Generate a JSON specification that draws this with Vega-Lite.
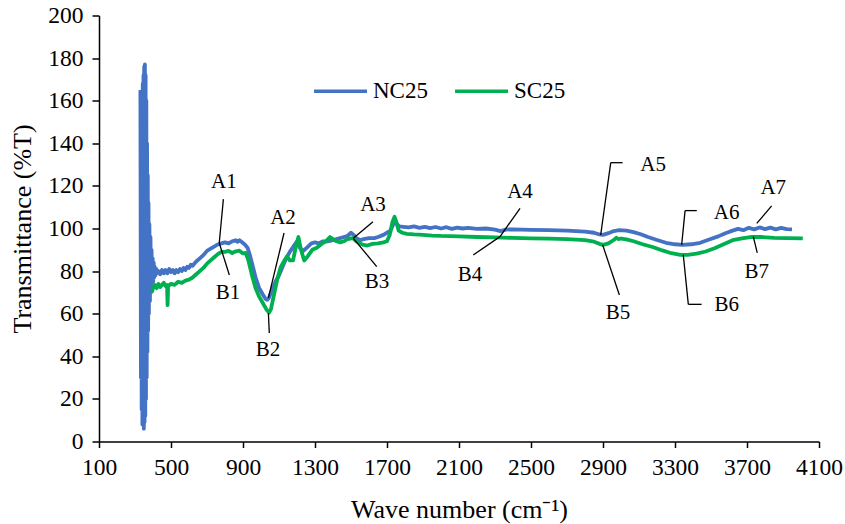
{
  "$schema": "https://vega.github.io/schema/vega-lite/v6.json",
  "width": 720,
  "height": 426,
  "autosize": {"type": "none"},
  "padding": {"left": 99, "top": 15.5, "right": 26, "bottom": 82.5},
  "background": "white",
  "config": {
    "view": {"stroke": null},
    "font": "Liberation Serif",
    "axis": {
      "grid": false,
      "domainColor": "black",
      "domainWidth": 1.5,
      "tickColor": "black",
      "tickWidth": 1.5,
      "labelColor": "black",
      "titleColor": "black",
      "labelFont": "Liberation Serif",
      "titleFont": "Liberation Serif",
      "labelFontSize": 23.5,
      "titleFontSize": 26,
      "titleFontWeight": "normal"
    }
  },
  "datasets": {
    "spectra": [
      {"series": "NC25", "wn": 330, "t": 165}, {"series": "NC25", "wn": 333, "t": 30}, {"series": "NC25", "wn": 335, "t": 150},
      {"series": "NC25", "wn": 337, "t": 15}, {"series": "NC25", "wn": 339, "t": 160}, {"series": "NC25", "wn": 341, "t": 8},
      {"series": "NC25", "wn": 343, "t": 168}, {"series": "NC25", "wn": 345, "t": 10}, {"series": "NC25", "wn": 347, "t": 172},
      {"series": "NC25", "wn": 349, "t": 6}, {"series": "NC25", "wn": 351, "t": 176}, {"series": "NC25", "wn": 353, "t": 9},
      {"series": "NC25", "wn": 355, "t": 177}, {"series": "NC25", "wn": 357, "t": 12}, {"series": "NC25", "wn": 359, "t": 172},
      {"series": "NC25", "wn": 361, "t": 20}, {"series": "NC25", "wn": 363, "t": 160}, {"series": "NC25", "wn": 365, "t": 30},
      {"series": "NC25", "wn": 367, "t": 140}, {"series": "NC25", "wn": 369, "t": 42}, {"series": "NC25", "wn": 371, "t": 125},
      {"series": "NC25", "wn": 373, "t": 52}, {"series": "NC25", "wn": 375, "t": 112}, {"series": "NC25", "wn": 377, "t": 60},
      {"series": "NC25", "wn": 380, "t": 102}, {"series": "NC25", "wn": 383, "t": 66}, {"series": "NC25", "wn": 386, "t": 96},
      {"series": "NC25", "wn": 389, "t": 70}, {"series": "NC25", "wn": 392, "t": 90}, {"series": "NC25", "wn": 395, "t": 73},
      {"series": "NC25", "wn": 398, "t": 86}, {"series": "NC25", "wn": 401, "t": 75}, {"series": "NC25", "wn": 404, "t": 84},
      {"series": "NC25", "wn": 407, "t": 77}, {"series": "NC25", "wn": 410, "t": 82}, {"series": "NC25", "wn": 414, "t": 78},
      {"series": "NC25", "wn": 418, "t": 81}, {"series": "NC25", "wn": 422, "t": 79}, {"series": "NC25", "wn": 430, "t": 80},
      {"series": "NC25", "wn": 440, "t": 78.5}, {"series": "NC25", "wn": 450, "t": 80.5}, {"series": "NC25", "wn": 460, "t": 79},
      {"series": "NC25", "wn": 470, "t": 80.5}, {"series": "NC25", "wn": 480, "t": 79}, {"series": "NC25", "wn": 490, "t": 81},
      {"series": "NC25", "wn": 500, "t": 79.5}, {"series": "NC25", "wn": 510, "t": 80.5}, {"series": "NC25", "wn": 520, "t": 79},
      {"series": "NC25", "wn": 530, "t": 80.5}, {"series": "NC25", "wn": 540, "t": 79.5}, {"series": "NC25", "wn": 550, "t": 81},
      {"series": "NC25", "wn": 560, "t": 80}, {"series": "NC25", "wn": 570, "t": 81.5}, {"series": "NC25", "wn": 580, "t": 80.5},
      {"series": "NC25", "wn": 590, "t": 82}, {"series": "NC25", "wn": 600, "t": 81.5}, {"series": "NC25", "wn": 610, "t": 83},
      {"series": "NC25", "wn": 620, "t": 82.5}, {"series": "NC25", "wn": 640, "t": 84.5}, {"series": "NC25", "wn": 660, "t": 86},
      {"series": "NC25", "wn": 680, "t": 87.5}, {"series": "NC25", "wn": 700, "t": 89.5}, {"series": "NC25", "wn": 720, "t": 90.5},
      {"series": "NC25", "wn": 740, "t": 91.5}, {"series": "NC25", "wn": 760, "t": 92.5}, {"series": "NC25", "wn": 780, "t": 93},
      {"series": "NC25", "wn": 800, "t": 93.5}, {"series": "NC25", "wn": 820, "t": 93}, {"series": "NC25", "wn": 840, "t": 94},
      {"series": "NC25", "wn": 860, "t": 94.5}, {"series": "NC25", "wn": 870, "t": 93.8}, {"series": "NC25", "wn": 880, "t": 94.5},
      {"series": "NC25", "wn": 895, "t": 93.5}, {"series": "NC25", "wn": 910, "t": 92.5}, {"series": "NC25", "wn": 925, "t": 91},
      {"series": "NC25", "wn": 940, "t": 87}, {"series": "NC25", "wn": 955, "t": 82}, {"series": "NC25", "wn": 970, "t": 77},
      {"series": "NC25", "wn": 990, "t": 72}, {"series": "NC25", "wn": 1010, "t": 69}, {"series": "NC25", "wn": 1025, "t": 67},
      {"series": "NC25", "wn": 1035, "t": 66.5}, {"series": "NC25", "wn": 1045, "t": 67.5}, {"series": "NC25", "wn": 1060, "t": 71},
      {"series": "NC25", "wn": 1080, "t": 75}, {"series": "NC25", "wn": 1100, "t": 78}, {"series": "NC25", "wn": 1120, "t": 82},
      {"series": "NC25", "wn": 1140, "t": 86}, {"series": "NC25", "wn": 1160, "t": 89}, {"series": "NC25", "wn": 1180, "t": 91.5},
      {"series": "NC25", "wn": 1200, "t": 94}, {"series": "NC25", "wn": 1215, "t": 91}, {"series": "NC25", "wn": 1235, "t": 89.5},
      {"series": "NC25", "wn": 1255, "t": 91}, {"series": "NC25", "wn": 1280, "t": 93}, {"series": "NC25", "wn": 1300, "t": 93.5},
      {"series": "NC25", "wn": 1320, "t": 93}, {"series": "NC25", "wn": 1345, "t": 94}, {"series": "NC25", "wn": 1370, "t": 94},
      {"series": "NC25", "wn": 1400, "t": 94.5}, {"series": "NC25", "wn": 1420, "t": 95}, {"series": "NC25", "wn": 1440, "t": 95.5},
      {"series": "NC25", "wn": 1460, "t": 96}, {"series": "NC25", "wn": 1480, "t": 96.5}, {"series": "NC25", "wn": 1500, "t": 98},
      {"series": "NC25", "wn": 1515, "t": 97}, {"series": "NC25", "wn": 1530, "t": 95.5}, {"series": "NC25", "wn": 1550, "t": 94.5},
      {"series": "NC25", "wn": 1570, "t": 95}, {"series": "NC25", "wn": 1600, "t": 95.5}, {"series": "NC25", "wn": 1630, "t": 95.5},
      {"series": "NC25", "wn": 1650, "t": 96}, {"series": "NC25", "wn": 1680, "t": 97}, {"series": "NC25", "wn": 1700, "t": 98},
      {"series": "NC25", "wn": 1720, "t": 99}, {"series": "NC25", "wn": 1735, "t": 102}, {"series": "NC25", "wn": 1745, "t": 104},
      {"series": "NC25", "wn": 1755, "t": 102}, {"series": "NC25", "wn": 1770, "t": 101}, {"series": "NC25", "wn": 1790, "t": 100.8},
      {"series": "NC25", "wn": 1820, "t": 100.5}, {"series": "NC25", "wn": 1850, "t": 101}, {"series": "NC25", "wn": 1880, "t": 100.3},
      {"series": "NC25", "wn": 1910, "t": 100.8}, {"series": "NC25", "wn": 1940, "t": 100.2}, {"series": "NC25", "wn": 1970, "t": 100.7},
      {"series": "NC25", "wn": 2000, "t": 100}, {"series": "NC25", "wn": 2030, "t": 100.6}, {"series": "NC25", "wn": 2060, "t": 99.8},
      {"series": "NC25", "wn": 2090, "t": 100.4}, {"series": "NC25", "wn": 2120, "t": 100}, {"series": "NC25", "wn": 2150, "t": 100.3},
      {"series": "NC25", "wn": 2200, "t": 99.8}, {"series": "NC25", "wn": 2250, "t": 100}, {"series": "NC25", "wn": 2300, "t": 99.5},
      {"series": "NC25", "wn": 2330, "t": 98.8}, {"series": "NC25", "wn": 2360, "t": 99.5}, {"series": "NC25", "wn": 2400, "t": 99.6},
      {"series": "NC25", "wn": 2500, "t": 99.4}, {"series": "NC25", "wn": 2600, "t": 99.2}, {"series": "NC25", "wn": 2700, "t": 99},
      {"series": "NC25", "wn": 2800, "t": 98.5}, {"series": "NC25", "wn": 2850, "t": 98}, {"series": "NC25", "wn": 2880, "t": 97.2},
      {"series": "NC25", "wn": 2900, "t": 97}, {"series": "NC25", "wn": 2930, "t": 97.8}, {"series": "NC25", "wn": 2960, "t": 98.8},
      {"series": "NC25", "wn": 2990, "t": 99.2}, {"series": "NC25", "wn": 3030, "t": 99}, {"series": "NC25", "wn": 3070, "t": 98.3},
      {"series": "NC25", "wn": 3110, "t": 97.3}, {"series": "NC25", "wn": 3150, "t": 96}, {"series": "NC25", "wn": 3200, "t": 94.6},
      {"series": "NC25", "wn": 3250, "t": 93.3}, {"series": "NC25", "wn": 3300, "t": 92.6}, {"series": "NC25", "wn": 3340, "t": 92.3},
      {"series": "NC25", "wn": 3390, "t": 92.6}, {"series": "NC25", "wn": 3440, "t": 93.3}, {"series": "NC25", "wn": 3490, "t": 94.8},
      {"series": "NC25", "wn": 3540, "t": 96.3}, {"series": "NC25", "wn": 3580, "t": 97.8}, {"series": "NC25", "wn": 3620, "t": 99},
      {"series": "NC25", "wn": 3650, "t": 99.8}, {"series": "NC25", "wn": 3680, "t": 99.2}, {"series": "NC25", "wn": 3710, "t": 100.3},
      {"series": "NC25", "wn": 3740, "t": 99.6}, {"series": "NC25", "wn": 3770, "t": 100.5}, {"series": "NC25", "wn": 3800, "t": 99.7},
      {"series": "NC25", "wn": 3830, "t": 100.4}, {"series": "NC25", "wn": 3860, "t": 99.6}, {"series": "NC25", "wn": 3890, "t": 100.3},
      {"series": "NC25", "wn": 3920, "t": 99.7}, {"series": "NC25", "wn": 3950, "t": 99.6},

      {"series": "SC25", "wn": 394, "t": 70}, {"series": "SC25", "wn": 400, "t": 72}, {"series": "SC25", "wn": 410, "t": 73.5},
      {"series": "SC25", "wn": 420, "t": 72}, {"series": "SC25", "wn": 430, "t": 74}, {"series": "SC25", "wn": 440, "t": 72.5},
      {"series": "SC25", "wn": 450, "t": 73.5}, {"series": "SC25", "wn": 460, "t": 74.5}, {"series": "SC25", "wn": 470, "t": 73},
      {"series": "SC25", "wn": 478, "t": 73.5}, {"series": "SC25", "wn": 481, "t": 64}, {"series": "SC25", "wn": 484, "t": 73},
      {"series": "SC25", "wn": 500, "t": 74}, {"series": "SC25", "wn": 520, "t": 73.5}, {"series": "SC25", "wn": 540, "t": 75},
      {"series": "SC25", "wn": 560, "t": 74.5}, {"series": "SC25", "wn": 580, "t": 75.5}, {"series": "SC25", "wn": 600, "t": 76},
      {"series": "SC25", "wn": 620, "t": 77}, {"series": "SC25", "wn": 640, "t": 78.5}, {"series": "SC25", "wn": 660, "t": 80},
      {"series": "SC25", "wn": 680, "t": 81.5}, {"series": "SC25", "wn": 700, "t": 83.5}, {"series": "SC25", "wn": 720, "t": 85},
      {"series": "SC25", "wn": 740, "t": 86.5}, {"series": "SC25", "wn": 760, "t": 88}, {"series": "SC25", "wn": 780, "t": 89},
      {"series": "SC25", "wn": 800, "t": 89}, {"series": "SC25", "wn": 820, "t": 89.5}, {"series": "SC25", "wn": 840, "t": 88.5},
      {"series": "SC25", "wn": 860, "t": 89.3}, {"series": "SC25", "wn": 880, "t": 89.6}, {"series": "SC25", "wn": 900, "t": 88.3},
      {"series": "SC25", "wn": 915, "t": 88.5}, {"series": "SC25", "wn": 930, "t": 85}, {"series": "SC25", "wn": 950, "t": 78},
      {"series": "SC25", "wn": 970, "t": 72}, {"series": "SC25", "wn": 990, "t": 68}, {"series": "SC25", "wn": 1010, "t": 65},
      {"series": "SC25", "wn": 1030, "t": 62}, {"series": "SC25", "wn": 1045, "t": 60.5}, {"series": "SC25", "wn": 1055, "t": 62},
      {"series": "SC25", "wn": 1070, "t": 68}, {"series": "SC25", "wn": 1090, "t": 76}, {"series": "SC25", "wn": 1110, "t": 82},
      {"series": "SC25", "wn": 1130, "t": 85}, {"series": "SC25", "wn": 1145, "t": 87}, {"series": "SC25", "wn": 1160, "t": 85},
      {"series": "SC25", "wn": 1178, "t": 85}, {"series": "SC25", "wn": 1195, "t": 92}, {"series": "SC25", "wn": 1208, "t": 96},
      {"series": "SC25", "wn": 1222, "t": 90}, {"series": "SC25", "wn": 1240, "t": 85}, {"series": "SC25", "wn": 1260, "t": 87},
      {"series": "SC25", "wn": 1285, "t": 90}, {"series": "SC25", "wn": 1310, "t": 91}, {"series": "SC25", "wn": 1340, "t": 93},
      {"series": "SC25", "wn": 1360, "t": 94}, {"series": "SC25", "wn": 1383, "t": 96}, {"series": "SC25", "wn": 1400, "t": 95},
      {"series": "SC25", "wn": 1420, "t": 94}, {"series": "SC25", "wn": 1440, "t": 93.5}, {"series": "SC25", "wn": 1460, "t": 94},
      {"series": "SC25", "wn": 1480, "t": 95}, {"series": "SC25", "wn": 1510, "t": 95.5}, {"series": "SC25", "wn": 1530, "t": 94},
      {"series": "SC25", "wn": 1550, "t": 93}, {"series": "SC25", "wn": 1570, "t": 92.3}, {"series": "SC25", "wn": 1590, "t": 92},
      {"series": "SC25", "wn": 1620, "t": 92.8}, {"series": "SC25", "wn": 1650, "t": 93}, {"series": "SC25", "wn": 1680, "t": 93.5},
      {"series": "SC25", "wn": 1700, "t": 94}, {"series": "SC25", "wn": 1715, "t": 97}, {"series": "SC25", "wn": 1730, "t": 103},
      {"series": "SC25", "wn": 1742, "t": 105.5}, {"series": "SC25", "wn": 1752, "t": 103}, {"series": "SC25", "wn": 1765, "t": 99},
      {"series": "SC25", "wn": 1785, "t": 98}, {"series": "SC25", "wn": 1810, "t": 97.5}, {"series": "SC25", "wn": 1850, "t": 97.2},
      {"series": "SC25", "wn": 1900, "t": 97}, {"series": "SC25", "wn": 1950, "t": 96.7}, {"series": "SC25", "wn": 2000, "t": 96.5},
      {"series": "SC25", "wn": 2100, "t": 96.3}, {"series": "SC25", "wn": 2200, "t": 96}, {"series": "SC25", "wn": 2300, "t": 95.8},
      {"series": "SC25", "wn": 2400, "t": 95.6}, {"series": "SC25", "wn": 2500, "t": 95.4}, {"series": "SC25", "wn": 2600, "t": 95.2},
      {"series": "SC25", "wn": 2700, "t": 95}, {"series": "SC25", "wn": 2800, "t": 94.5}, {"series": "SC25", "wn": 2850, "t": 93.8},
      {"series": "SC25", "wn": 2880, "t": 92.8}, {"series": "SC25", "wn": 2900, "t": 92.3}, {"series": "SC25", "wn": 2930, "t": 93},
      {"series": "SC25", "wn": 2960, "t": 94.6}, {"series": "SC25", "wn": 2975, "t": 95.7}, {"series": "SC25", "wn": 2985, "t": 95},
      {"series": "SC25", "wn": 3000, "t": 95.3}, {"series": "SC25", "wn": 3030, "t": 94.9}, {"series": "SC25", "wn": 3070, "t": 94},
      {"series": "SC25", "wn": 3120, "t": 92.6}, {"series": "SC25", "wn": 3180, "t": 91.2}, {"series": "SC25", "wn": 3230, "t": 89.7},
      {"series": "SC25", "wn": 3280, "t": 88.4}, {"series": "SC25", "wn": 3330, "t": 87.6}, {"series": "SC25", "wn": 3370, "t": 87.6},
      {"series": "SC25", "wn": 3420, "t": 88.2}, {"series": "SC25", "wn": 3470, "t": 89.2}, {"series": "SC25", "wn": 3520, "t": 90.7},
      {"series": "SC25", "wn": 3570, "t": 92.6}, {"series": "SC25", "wn": 3620, "t": 94.5}, {"series": "SC25", "wn": 3680, "t": 95.5},
      {"series": "SC25", "wn": 3720, "t": 96}, {"series": "SC25", "wn": 3780, "t": 96}, {"series": "SC25", "wn": 3850, "t": 95.6},
      {"series": "SC25", "wn": 3920, "t": 95.5}, {"series": "SC25", "wn": 4010, "t": 95.4}
    ],
    "leaders": [
      {"wn": 791, "t": 113.8, "wn2": 768, "t2": 93.2},
      {"wn": 768, "t": 93.2, "wn2": 824, "t2": 78.2},
      {"wn": 1128, "t": 97.9, "wn2": 1041, "t2": 67.4},
      {"wn": 1041, "t": 60.3, "wn2": 1046, "t2": 50.9},
      {"wn": 1622, "t": 103.2, "wn2": 1513, "t2": 95.4},
      {"wn": 1513, "t": 95.4, "wn2": 1643, "t2": 82.1},
      {"wn": 2439, "t": 109.5, "wn2": 2328, "t2": 96.2},
      {"wn": 2179, "t": 87.6, "wn2": 2328, "t2": 96.2},
      {"wn": 3009, "t": 130.9, "wn2": 2943, "t2": 130.9},
      {"wn": 2943, "t": 130.9, "wn2": 2887, "t2": 96.9},
      {"wn": 2898, "t": 92.3, "wn2": 2991, "t2": 68.8},
      {"wn": 3421, "t": 108.4, "wn2": 3356, "t2": 108.4},
      {"wn": 3356, "t": 108.4, "wn2": 3337, "t2": 92.3},
      {"wn": 3346, "t": 87.6, "wn2": 3374, "t2": 64.4},
      {"wn": 3374, "t": 64.4, "wn2": 3448, "t2": 64.4},
      {"wn": 3837, "t": 110.6, "wn2": 3754, "t2": 102.4},
      {"wn": 3735, "t": 96.2, "wn2": 3757, "t2": 88.6}
    ],
    "labels": [
      {"label": "A1", "wn": 794, "t": 121.8}, {"label": "B1", "wn": 817, "t": 69.7},
      {"label": "A2", "wn": 1122, "t": 104.9}, {"label": "B2", "wn": 1039, "t": 43},
      {"label": "A3", "wn": 1622, "t": 111}, {"label": "B3", "wn": 1644, "t": 74.9},
      {"label": "A4", "wn": 2439, "t": 117.3}, {"label": "B4", "wn": 2161, "t": 78.2},
      {"label": "A5", "wn": 3178, "t": 129.8}, {"label": "B5", "wn": 2983, "t": 60.3},
      {"label": "A6", "wn": 3587, "t": 107.3}, {"label": "B6", "wn": 3587, "t": 64.1},
      {"label": "A7", "wn": 3846, "t": 118.9}, {"label": "B7", "wn": 3754, "t": 79.7}
    ]
  },
  "encoding": {
    "x": {
      "field": "wn",
      "type": "quantitative",
      "scale": {"domain": [100, 4100], "nice": false, "zero": false},
      "axis": {
        "title": "Wave number (cm⁻¹)",
        "values": [100, 500, 900, 1300, 1700, 2100, 2500, 2900, 3300, 3700, 4100],
        "format": "d",
        "tickSize": 6,
        "labelPadding": 8,
        "titlePadding": 17,
        "labelFlush": false
      }
    },
    "y": {
      "field": "t",
      "type": "quantitative",
      "scale": {"domain": [0, 200], "nice": false},
      "axis": {
        "title": "Transmittance (%T)",
        "values": [0, 20, 40, 60, 80, 100, 120, 140, 160, 180, 200],
        "format": "d",
        "tickSize": 7,
        "labelPadding": 9,
        "titlePadding": 12,
        "labelFlush": false
      }
    }
  },
  "layer": [
    {
      "data": {"name": "spectra"},
      "mark": {"type": "line", "strokeWidth": 3.8, "strokeJoin": "round", "clip": true},
      "encoding": {
        "color": {
          "field": "series",
          "type": "nominal",
          "scale": {"domain": ["NC25", "SC25"], "range": ["#4472C4", "#00B050"]},
          "legend": {
            "title": null,
            "orient": "none",
            "legendX": 213,
            "legendY": 47,
            "direction": "horizontal",
            "symbolType": "stroke",
            "symbolSize": 2800,
            "symbolStrokeWidth": 3.5,
            "labelFont": "Liberation Serif",
            "labelFontSize": 23,
            "labelColor": "black",
            "labelOffset": 4,
            "columnPadding": 20
          }
        }
      }
    },
    {
      "data": {"name": "leaders"},
      "mark": {"type": "rule", "color": "black", "strokeWidth": 1.3},
      "encoding": {
        "x2": {"field": "wn2"},
        "y2": {"field": "t2"}
      }
    },
    {
      "data": {"name": "labels"},
      "mark": {"type": "text", "font": "Liberation Serif", "fontSize": 21, "color": "black", "align": "center", "baseline": "middle"},
      "encoding": {
        "text": {"field": "label", "type": "nominal"}
      }
    }
  ]
}
